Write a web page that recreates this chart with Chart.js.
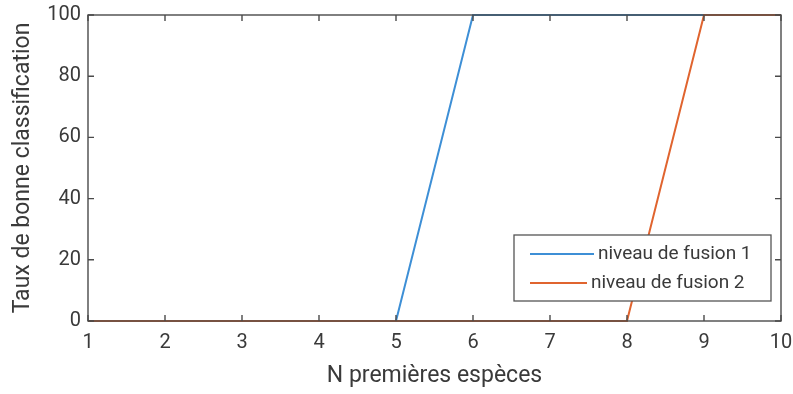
<!DOCTYPE html>
<html>
<head>
<meta charset="utf-8">
<script src="https://cdn.jsdelivr.net/npm/chart.js@4.4.0/dist/chart.umd.min.js"></script>
<style>
    html, body { margin: 0; padding: 0; background: #fff; }
    #wrap { width: 793px; height: 394px; }
</style>
</head>
<body>
<div id="wrap"><canvas id="rateChart" width="793" height="394"></canvas></div>
<script>
// data
const nSpecies = [1, 2, 3, 4, 5, 6, 7, 8, 9, 10];
const fusion1 = [0, 0, 0, 0, 0, 100, 100, 100, 100, 100];
const fusion2 = [0, 0, 0, 0, 0, 0, 0, 0, 100, 100];
const seriesLabels = ['niveau de fusion 1', 'niveau de fusion 2'];
const xTicks = [1, 2, 3, 4, 5, 6, 7, 8, 9, 10];
const yTicks = [0, 20, 40, 60, 80, 100];

const BLUE = '#3d8fd6';
const ORANGE = '#e0642f';
const AXIS = '#4a4a4a';
const TEXT = '#3a3a3a';
const FONT = 'Roboto, "Liberation Sans", sans-serif';

function toPoints(values) {
    return nSpecies.map((n, i) => ({ x: n, y: values[i] }));
}

// box + inward ticks, matlab style
const boxPlugin = {
    id: 'box',
    afterDraw(chart) {
        const { ctx, chartArea: a, scales } = chart;
        ctx.save();
        ctx.strokeStyle = AXIS;
        ctx.lineWidth = 1.4;
        ctx.strokeRect(a.left, a.top, a.right - a.left, a.bottom - a.top);
        const len = 6;
        ctx.beginPath();
        xTicks.forEach(v => {
            const px = scales.x.getPixelForValue(v);
            ctx.moveTo(px, a.bottom); ctx.lineTo(px, a.bottom - len);
            ctx.moveTo(px, a.top); ctx.lineTo(px, a.top + len);
        });
        yTicks.forEach(v => {
            const py = scales.y.getPixelForValue(v);
            ctx.moveTo(a.left, py); ctx.lineTo(a.left + len, py);
            ctx.moveTo(a.right, py); ctx.lineTo(a.right - len, py);
        });
        ctx.stroke();

        // legend inside the axes, bottom right
        const lx = 514, ly = 235, lw = 257, lh = 66;
        ctx.fillStyle = '#fff';
        ctx.fillRect(lx, ly, lw, lh);
        ctx.strokeStyle = '#555';
        ctx.lineWidth = 1.3;
        ctx.strokeRect(lx, ly, lw, lh);
        ctx.font = '19px ' + FONT;
        ctx.textBaseline = 'middle';
        ctx.fillStyle = TEXT;
        const colors = [BLUE, ORANGE];
        const rows = [254, 283];
        const textX = [598, 591];
        seriesLabels.forEach((lab, i) => {
            ctx.strokeStyle = colors[i];
            ctx.lineWidth = 2;
            ctx.beginPath();
            ctx.moveTo(530, rows[i]);
            ctx.lineTo(textX[i] - 4, rows[i]);
            ctx.stroke();
            ctx.fillText(lab, textX[i], rows[i]);
        });
        ctx.restore();
    }
};

new Chart(document.getElementById('rateChart'), {
    type: 'line',
    data: {
        datasets: [
            {
                label: seriesLabels[1],
                data: toPoints(fusion2),
                borderColor: ORANGE,
                borderWidth: 2,
                pointRadius: 0,
                tension: 0,
                clip: 3
            },
            {
                label: seriesLabels[0],
                data: toPoints(fusion1),
                borderColor: BLUE,
                borderWidth: 2,
                pointRadius: 0,
                tension: 0,
                clip: 3
            }
        ]
    },
    options: {
        responsive: false,
        animation: false,
        layout: { padding: 0 },
        plugins: {
            legend: { display: false },
            tooltip: { enabled: false }
        },
        scales: {
            x: {
                type: 'linear',
                min: 1,
                max: 10,
                afterBuildTicks: s => { s.ticks = xTicks.map(v => ({ value: v })); },
                afterFit: s => {
                    s.height = 73;
                    s.paddingLeft = 0;
                    s.paddingRight = 12;
                },
                grid: { display: false, drawTicks: false },
                border: { display: false },
                ticks: { color: TEXT, font: { family: FONT, size: 20 }, padding: 10 },
                title: {
                    display: true,
                    text: 'N premières espèces',
                    color: TEXT,
                    font: { family: FONT, size: 23 },
                    padding: { top: 3 }
                }
            },
            y: {
                min: 0,
                max: 100,
                afterBuildTicks: s => { s.ticks = yTicks.map(v => ({ value: v })); },
                afterFit: s => {
                    s.width = 88;
                    s.paddingTop = 15;
                    s.paddingBottom = 0;
                },
                grid: { display: false, drawTicks: false },
                border: { display: false },
                ticks: { color: TEXT, font: { family: FONT, size: 20 }, padding: 7 },
                title: {
                    display: true,
                    text: 'Taux de bonne classification',
                    color: TEXT,
                    font: { family: FONT, size: 23 },
                    padding: { top: 9, bottom: 0 }
                }
            }
        }
    },
    plugins: [boxPlugin]
});
</script>
</body>
</html>
